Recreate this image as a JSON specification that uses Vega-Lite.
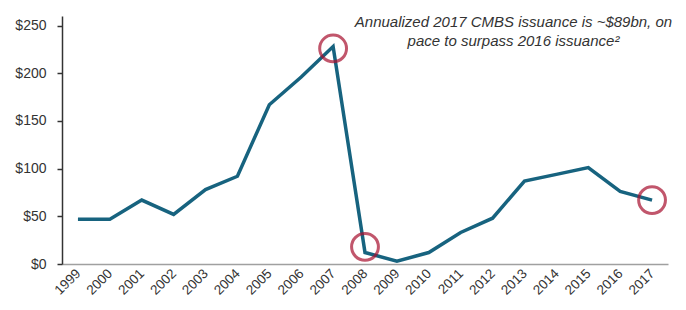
{
  "$schema": "https://vega.github.io/schema/vega-lite/v6.json",
  "width": 606,
  "height": 248,
  "autosize": {"type": "none"},
  "padding": {"left": 62, "top": 16, "right": 18, "bottom": 46},
  "background": "white",
  "config": {
    "view": {"stroke": null},
    "font": "Liberation Sans"
  },
  "datasets": {
    "series": [
      {"year": "1999", "value": 47},
      {"year": "2000", "value": 47},
      {"year": "2001", "value": 67},
      {"year": "2002", "value": 52},
      {"year": "2003", "value": 78},
      {"year": "2004", "value": 92},
      {"year": "2005", "value": 167},
      {"year": "2006", "value": 196},
      {"year": "2007", "value": 228},
      {"year": "2008", "value": 12},
      {"year": "2009", "value": 3},
      {"year": "2010", "value": 12},
      {"year": "2011", "value": 33},
      {"year": "2012", "value": 48},
      {"year": "2013", "value": 87},
      {"year": "2014", "value": 94},
      {"year": "2015", "value": 101},
      {"year": "2016", "value": 76},
      {"year": "2017", "value": 67}
    ],
    "highlights": [
      {"year": "2007", "value": 226},
      {"year": "2008", "value": 18},
      {"year": "2017", "value": 67}
    ],
    "note": [
      {"year": "2013", "value": 254, "label": ["Annualized 2017 CMBS issuance is ~$89bn, on", "pace to surpass 2016 issuance²"]}
    ]
  },
  "layer": [
    {
      "data": {"name": "series"},
      "mark": {"type": "line", "color": "#17637f", "strokeWidth": 3.5, "strokeJoin": "miter"},
      "encoding": {
        "x": {
          "field": "year", "type": "ordinal", "scale": {"type": "point", "padding": 0.5},
          "axis": {
            "title": null, "labelAngle": -45, "labelAlign": "right", "labelBaseline": "middle",
            "ticks": false, "labelPadding": 7, "labelFontSize": 13.5, "labelColor": "#333333",
            "domainColor": "#a0a0a0", "domainWidth": 1.5
          }
        },
        "y": {
          "field": "value", "type": "quantitative", "scale": {"domain": [0, 250]},
          "axis": {
            "title": null, "values": [0, 50, 100, 150, 200, 250], "format": "$d",
            "grid": false, "tickSize": 5, "tickColor": "#333333", "tickWidth": 1.5,
            "domainColor": "#333333", "domainWidth": 1.5, "labelPadding": 11,
            "labelFontSize": 14, "labelColor": "#333333"
          }
        }
      }
    },
    {
      "data": {"name": "highlights"},
      "mark": {"type": "point", "shape": "circle", "filled": false, "stroke": "#a8102e", "strokeWidth": 3, "size": 720},
      "encoding": {
        "x": {"field": "year", "type": "ordinal"},
        "y": {"field": "value", "type": "quantitative"}
      }
    },
    {
      "data": {"name": "note"},
      "mark": {"type": "text", "fontStyle": "italic", "fontSize": 15, "color": "#333333", "align": "center", "baseline": "middle", "lineHeight": 19, "dx": -11},
      "encoding": {
        "x": {"field": "year", "type": "ordinal"},
        "y": {"field": "value", "type": "quantitative"},
        "text": {"field": "label"}
      }
    }
  ]
}
